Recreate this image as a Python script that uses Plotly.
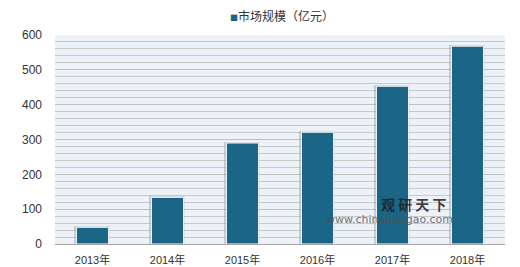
import plotly.graph_objects as go

years = ["2013年", "2014年", "2015年", "2016年", "2017年", "2018年"]
values = [48, 134, 290, 321, 453, 568]
series_name = "市场规模（亿元）"
bar_color = "#1B6586"

fig = go.Figure()
# soft shadow behind bars
fig.add_trace(go.Bar(x=years, y=[v + 3 for v in values], width=0.47, offset=-0.245,
                     marker=dict(color="rgba(120,120,120,0.35)", line=dict(width=0)),
                     showlegend=False, hoverinfo="skip"))
fig.add_trace(go.Bar(x=years, y=values, name=series_name, width=0.43, offset=-0.215,
                     marker=dict(color=bar_color, line=dict(color="white", width=1)),
                     showlegend=False))

fig.update_layout(
    width=520, height=267,
    margin=dict(l=55, r=15, t=35, b=23),
    paper_bgcolor="white", plot_bgcolor="#EDF2F8",
    barmode="overlay",
    font=dict(family="Noto Sans CJK SC, sans-serif", size=11, color="#333333"),
    showlegend=False,
)
fig.update_xaxes(showline=True, linecolor="#A6A6A6", linewidth=1, ticks="",
                 automargin=False, ticklabelstandoff=6,
                 tickfont=dict(size=11, family="Liberation Sans, Noto Sans CJK SC"))
fig.update_yaxes(range=[0, 600], dtick=100, showgrid=True, gridcolor="#BFBFBF", gridwidth=1,
                 minor=dict(dtick=20, showgrid=True, gridcolor="#C8C8C8", gridwidth=1),
                 zeroline=False, ticks="", automargin=False,
                 tickfont=dict(size=12, family="Liberation Sans"),
                 ticklabelstandoff=12)

# legend (top centre)
fig.add_annotation(text=f"<span style='color:{bar_color};font-size:8px'>■</span>{series_name}",
                   xref="paper", yref="paper", x=0.504, xanchor="center", y=1.0, yshift=20,
                   yanchor="middle", showarrow=False, font=dict(size=12, color="#333333"))

# watermark
fig.add_annotation(text="<b>观 研 天 下</b>", xref="paper", yref="paper", x=0.797, xanchor="center",
                   y=0.19, yanchor="middle", showarrow=False,
                   font=dict(size=14, color="rgba(30,30,30,0.85)"))
fig.add_annotation(text="www.chinabaogao.com", xref="paper", yref="paper", x=0.744, xanchor="center",
                   y=0.118, yanchor="middle", showarrow=False,
                   font=dict(size=11, color="rgba(80,80,80,0.8)", family="DejaVu Sans"))

fig.write_html("out.html")
